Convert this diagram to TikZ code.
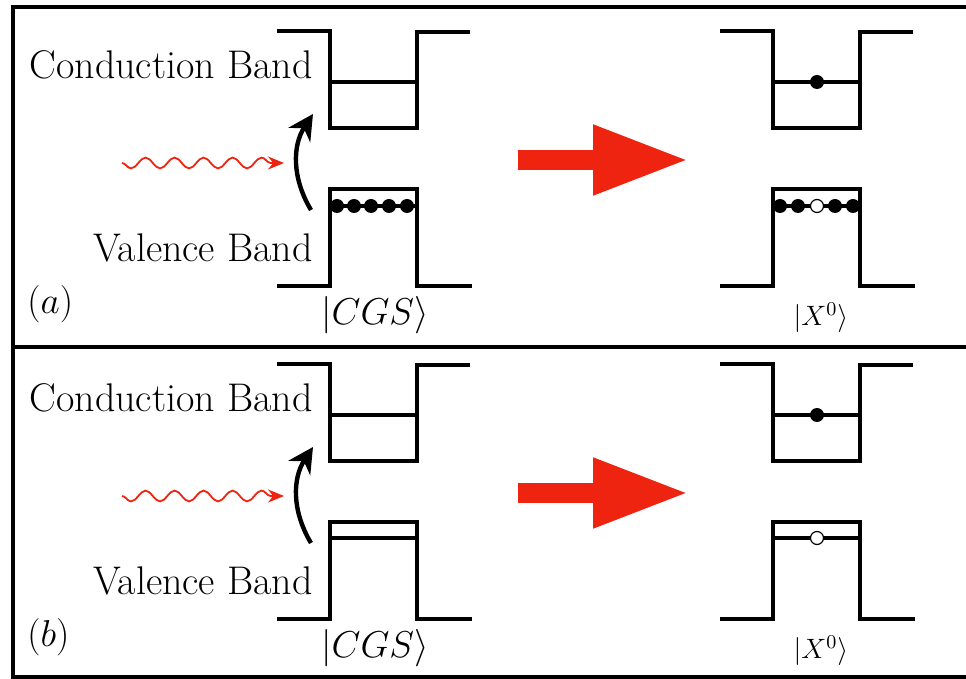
\RequirePackage{fix-cm}
\documentclass[tikz,border=0pt]{standalone}
\usepackage{tikz}
\usetikzlibrary{arrows.meta, positioning, decorations.pathmorphing}
\definecolor{photonred}{RGB}{238, 35, 16}

\tikzset{
  band/.style={line width=2.3pt, line join=miter},
  frameline/.style={line width=2pt},
  electron/.style={circle, fill=black, inner sep=0pt, minimum size=7pt},
  hole/.style={circle, draw=black, fill=white, line width=0.6pt, inner sep=0pt, minimum size=6.5pt},
  bandlabel/.style={font=\fontsize{20}{24}\selectfont, inner sep=0pt},
  ketlabel/.style={font=\fontsize{18.7}{22}\selectfont, inner sep=0pt},
  statelabel/.style={font=\fontsize{14}{17}\selectfont, inner sep=0pt},
  photon/.style={photonred, line width=0.9pt, decorate,
    decoration={snake, mirror, amplitude=2.7pt, segment length=14.5pt, post length=6pt},
    -{Stealth[length=8pt, width=6.5pt]}},
  excite/.style={line width=2.2pt, -{Stealth[length=12.5pt, width=13pt]}},
  pusharrow/.style={photonred, line width=10pt, -{Triangle[length=48pt, width=32.5pt]}}
}

\begin{document}
\begin{tikzpicture}[x=0.5pt, y=-0.5pt]
    \useasboundingbox (0,0) rectangle (966,679);

    % Frame
    \draw[frameline] (968,7) -| (13,677) -- (968,677);
    \draw[frameline] (13,347) -- (968,347);

    % ---------- Panel (a) ----------
    % Band labels
    \node[bandlabel, anchor=base east] (cbtextA) at (313,79) {Conduction Band};
    \node[bandlabel, anchor=base east] (vbtextA) at (313,262) {Valence Band};
    \node[ketlabel, anchor=base west] (labA) at (27,314) {$(a)$};
    \node[ketlabel, anchor=base] (cgsA) at (375,325) {$|CGS\rangle$};
    \node[statelabel, anchor=base] (xA) at (821,326) {$|X^0\rangle$};

    % Ground state wells
    \draw[band] (277,31) -- (330,31) -- (330,128) -- (417,128) -- (417,32) -- (470,32);
    \draw[band] (330,82) -- (417,82);
    \draw[band] (277,286) -- (330,286) -- (330,189) -- (417,189) -- (417,286) -- (472,286);
    \draw[band] (330,206) -- (417,206);

    % Exciton wells
    \draw[band] (720,31) -- (773,31) -- (773,128) -- (860,128) -- (860,32) -- (913,32);
    \draw[band] (773,82) -- (860,82);
    \draw[band] (720,286) -- (773,286) -- (773,189) -- (860,189) -- (860,286) -- (915,286);
    \draw[band] (773,206) -- (860,206);

    % Carriers
    \node[electron] (vaA1) at (337,206) {};
    \node[electron] (vaA2) at (354,206) {};
    \node[electron] (vaA3) at (371,206) {};
    \node[electron] (vaA4) at (389,206) {};
    \node[electron] (vaA5) at (407,206) {};
    \node[electron] (vxA1) at (780,206) {};
    \node[electron] (vxA2) at (798,206) {};
    \node[hole] (holeA) at (817,206) {};
    \node[electron] (vxA4) at (835,206) {};
    \node[electron] (vxA5) at (853,206) {};
    \node[electron] (cxA) at (817,82) {};

    % Arrows
    \coordinate (waveinA) at (122,163);
    \coordinate (waveoutA) at (284,163);
    \draw[photon] (waveinA) -- (waveoutA);
    \coordinate (exlowA) at (311,210);
    \coordinate (exhighA) at (313,114);
    \draw[excite] (exlowA) to[bend left=32] (exhighA);
    \coordinate (pushtailA) at (518,160);
    \coordinate (pushtipA) at (689,160);
    \draw[pusharrow] (pushtailA) -- (pushtipA);

    % ---------- Panel (b) ----------
    \begin{scope}[shift={(0,333)}]
    \node[bandlabel, anchor=base east] (cbtextB) at (313,79) {Conduction Band};
    \node[bandlabel, anchor=base east] (vbtextB) at (313,262) {Valence Band};
    \node[ketlabel, anchor=base west] (labB) at (27,314) {$(b)$};
    \node[ketlabel, anchor=base] (cgsB) at (375,325) {$|CGS\rangle$};
    \node[statelabel, anchor=base] (xB) at (821,326) {$|X^0\rangle$};

    \draw[band] (277,31) -- (330,31) -- (330,128) -- (417,128) -- (417,32) -- (470,32);
    \draw[band] (330,82) -- (417,82);
    \draw[band] (277,286) -- (330,286) -- (330,189) -- (417,189) -- (417,286) -- (472,286);
    \draw[band] (330,205) -- (417,205);

    \draw[band] (720,31) -- (773,31) -- (773,128) -- (860,128) -- (860,32) -- (913,32);
    \draw[band] (773,82) -- (860,82);
    \draw[band] (720,286) -- (773,286) -- (773,189) -- (860,189) -- (860,286) -- (915,286);
    \draw[band] (773,205) -- (860,205);

    \node[hole] (holeB) at (817,205) {};
    \node[electron] (cxB) at (817,82) {};

    \coordinate (waveinB) at (122,163);
    \coordinate (waveoutB) at (284,163);
    \draw[photon] (waveinB) -- (waveoutB);
    \coordinate (exlowB) at (311,210);
    \coordinate (exhighB) at (313,114);
    \draw[excite] (exlowB) to[bend left=32] (exhighB);
    \coordinate (pushtailB) at (518,160);
    \coordinate (pushtipB) at (689,160);
    \draw[pusharrow] (pushtailB) -- (pushtipB);
    \end{scope}
\end{tikzpicture}
\end{document}
